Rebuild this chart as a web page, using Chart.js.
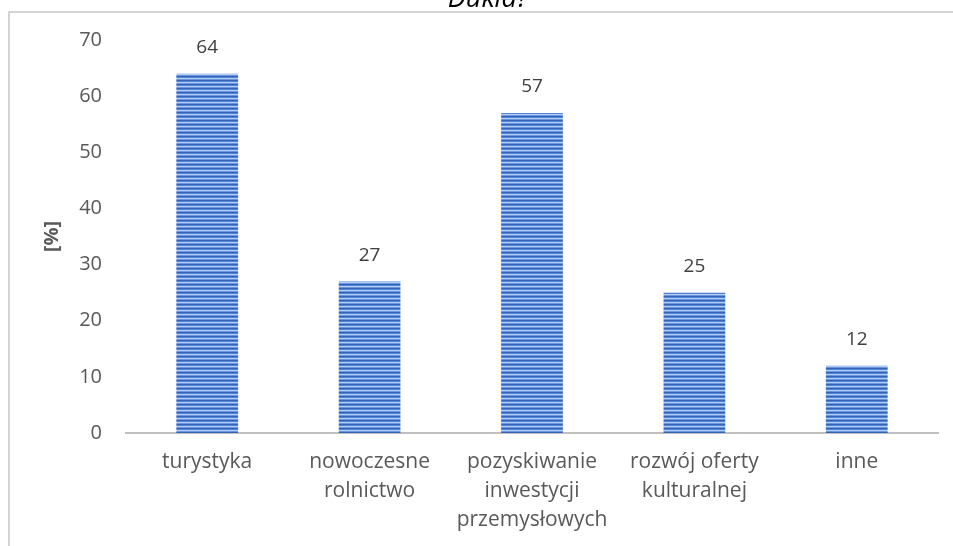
<!DOCTYPE html>
<html>
<head>
<meta charset="utf-8">
<script src="https://cdn.jsdelivr.net/npm/chart.js@4"></script>
<style>
  html, body { margin: 0; padding: 0; background: #fff; overflow: hidden; }
  #wrap { position: relative; width: 953px; height: 546px; }
  #frame { position: absolute; left: 8px; top: 11px; width: 1000px; height: 600px;
           border-left: 2px solid #d4d4d4; border-top: 2px solid #d4d4d4; }
  canvas { position: absolute; left: 0; top: 0; }
</style>
</head>
<body>
<div id="wrap">
  <div id="frame"></div>
  <canvas id="chart" width="953" height="546"></canvas>
</div>
<script>
const categories = [
  'turystyka',
  ['nowoczesne', 'rolnictwo'],
  ['pozyskiwanie', 'inwestycji', 'przemysłowych'],
  ['rozwój oferty', 'kulturalnej'],
  'inne',
];
const values = [64, 27, 57, 25, 12];
const yTicks = [0, 10, 20, 30, 40, 50, 60, 70];
const titleText = 'Dukla?';
const axisTitle = '[%]';

const FONT = '"Open Sans", sans-serif';

// striped fill like the office "horizontal lines" pattern
function stripes() {
  const c = document.createElement('canvas');
  c.width = 4; c.height = 4;
  const g = c.getContext('2d');
  const rows = ['#3464b8', '#5184d6', '#b3cdf3', '#6b95dc'];
  rows.forEach((col, i) => { g.fillStyle = col; g.fillRect(0, i, 4, 1); });
  return g.createPattern(c, 'repeat');
}

const ctx = document.getElementById('chart').getContext('2d');

const extras = {
  id: 'extras',
  afterDatasetsDraw(chart) {
    const c = chart.ctx;
    const meta = chart.getDatasetMeta(0);
    c.save();
    c.fillStyle = '#404040';
    c.font = '19px ' + FONT;
    c.textAlign = 'center';
    c.textBaseline = 'middle';
    meta.data.forEach((bar, i) => {
      c.fillText(String(values[i]), bar.x, bar.y - 26);
    });
    c.fillStyle = '#000';
    c.font = 'italic 27px ' + FONT;
    c.textBaseline = 'alphabetic';
    c.fillText(titleText, 488, 7);
    c.restore();
  },
};

new Chart(ctx, {
  type: 'bar',
  data: {
    labels: categories,
    datasets: [{
      data: values,
      backgroundColor: stripes(),
      borderWidth: 0,
      categoryPercentage: 1,
      barPercentage: 0.38,
    }],
  },
  options: {
    responsive: false,
    animation: false,
    layout: { padding: { top: 40, right: 15, left: 0, bottom: 0 } },
    plugins: { legend: { display: false }, tooltip: { enabled: false } },
    scales: {
      x: {
        grid: { display: false, drawTicks: false },
        border: { display: true, color: '#bfbfbf', width: 2 },
        ticks: {
          color: '#595959',
          font: { family: FONT, size: 21, lineHeight: 1.38 },
          padding: 15,
          maxRotation: 0,
          autoSkip: false,
        },
        afterFit: (s) => { s.height = 113; },
      },
      y: {
        min: 0,
        max: 70,
        afterBuildTicks: (s) => { s.ticks = yTicks.map((v) => ({ value: v })); },
        grid: { display: false, drawTicks: false },
        border: { display: false },
        ticks: {
          color: '#595959',
          font: { family: FONT, size: 20 },
          padding: 24,
        },
        title: {
          display: true,
          text: axisTitle,
          color: '#595959',
          font: { family: FONT, size: 20, weight: 'bold' },
          padding: { top: 40, bottom: 0 },
        },
        afterFit: (s) => { s.width = 126; },
      },
    },
  },
  plugins: [extras],
});
</script>
</body>
</html>
